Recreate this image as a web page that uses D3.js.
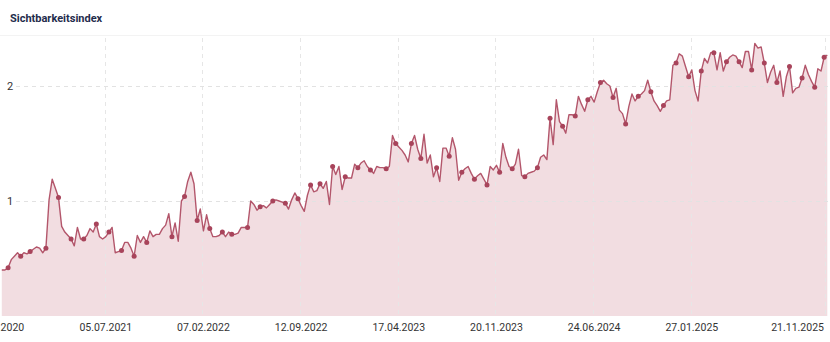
<!DOCTYPE html>
<html>
<head>
<meta charset="utf-8">
<script src="https://cdn.jsdelivr.net/npm/d3@7"></script>
<style>
  html, body { margin: 0; padding: 0; background: #fff; }
  svg { display: block; font-family: Roboto, "Noto Sans", sans-serif; }
</style>
</head>
<body>
<svg id="chart" width="830" height="342"></svg>
<script>
// ---- data (weekly Sichtbarkeitsindex) ----
const title = "Sichtbarkeitsindex";

const dates = [
  "2020-11-16","2020-11-23","2020-11-30","2020-12-07","2020-12-14","2020-12-21","2020-12-28",
  "2021-01-04","2021-01-11","2021-01-18","2021-01-25","2021-02-01","2021-02-08","2021-02-15","2021-02-22",
  "2021-03-01","2021-03-08","2021-03-15","2021-03-22","2021-03-29","2021-04-05","2021-04-12","2021-04-19","2021-04-26",
  "2021-05-03","2021-05-10","2021-05-17","2021-05-24","2021-05-31","2021-06-07","2021-06-14","2021-06-21","2021-06-28",
  "2021-07-05","2021-07-12","2021-07-19","2021-07-26","2021-08-02","2021-08-09","2021-08-16","2021-08-23","2021-08-30",
  "2021-09-06","2021-09-13","2021-09-20","2021-09-27","2021-10-04","2021-10-11","2021-10-18","2021-10-25",
  "2021-11-01","2021-11-08","2021-11-15","2021-11-22","2021-11-29","2021-12-06","2021-12-13","2021-12-20","2021-12-27",
  "2022-01-03","2022-01-10","2022-01-17","2022-01-24","2022-01-31","2022-02-07","2022-02-14","2022-02-21","2022-02-28",
  "2022-03-07","2022-03-14","2022-03-21","2022-03-28","2022-04-04","2022-04-11","2022-04-18","2022-04-25",
  "2022-05-02","2022-05-09","2022-05-16","2022-05-23","2022-05-30","2022-06-06","2022-06-13","2022-06-20","2022-06-27",
  "2022-07-04","2022-07-11","2022-07-18","2022-07-25","2022-08-01","2022-08-08","2022-08-15","2022-08-22","2022-08-29",
  "2022-09-05","2022-09-12","2022-09-19","2022-09-26","2022-10-03","2022-10-10","2022-10-17","2022-10-24","2022-10-31",
  "2022-11-07","2022-11-14","2022-11-21","2022-11-28","2022-12-05","2022-12-12","2022-12-19","2022-12-26",
  "2023-01-02","2023-01-09","2023-01-16","2023-01-23","2023-01-30","2023-02-06","2023-02-13","2023-02-20","2023-02-27",
  "2023-03-06","2023-03-13","2023-03-20","2023-03-27","2023-04-03","2023-04-10","2023-04-17","2023-04-24",
  "2023-05-01","2023-05-08","2023-05-15","2023-05-22","2023-05-29","2023-06-05","2023-06-12","2023-06-19","2023-06-26",
  "2023-07-03","2023-07-10","2023-07-17","2023-07-24","2023-07-31","2023-08-07","2023-08-14","2023-08-21","2023-08-28",
  "2023-09-04","2023-09-11","2023-09-18","2023-09-25","2023-10-02","2023-10-09","2023-10-16","2023-10-23","2023-10-30",
  "2023-11-06","2023-11-13","2023-11-20","2023-11-27","2023-12-04","2023-12-11","2023-12-18","2023-12-25",
  "2024-01-01","2024-01-08","2024-01-15","2024-01-22","2024-01-29","2024-02-05","2024-02-12","2024-02-19","2024-02-26",
  "2024-03-04","2024-03-11","2024-03-18","2024-03-25","2024-04-01","2024-04-08","2024-04-15","2024-04-22","2024-04-29",
  "2024-05-06","2024-05-13","2024-05-20","2024-05-27","2024-06-03","2024-06-10","2024-06-17","2024-06-24",
  "2024-07-01","2024-07-08","2024-07-15","2024-07-22","2024-07-29","2024-08-05","2024-08-12","2024-08-19","2024-08-26",
  "2024-09-02","2024-09-09","2024-09-16","2024-09-23","2024-09-30","2024-10-07","2024-10-14","2024-10-21","2024-10-28",
  "2024-11-04","2024-11-11","2024-11-18","2024-11-25","2024-12-02","2024-12-09","2024-12-16","2024-12-23","2024-12-30",
  "2025-01-06","2025-01-13","2025-01-20","2025-01-27","2025-02-03","2025-02-10","2025-02-17","2025-02-24",
  "2025-03-03","2025-03-10","2025-03-17","2025-03-24","2025-03-31","2025-04-07","2025-04-14","2025-04-21","2025-04-28",
  "2025-05-05","2025-05-12","2025-05-19","2025-05-26","2025-06-02","2025-06-09","2025-06-16","2025-06-23","2025-06-30",
  "2025-07-07","2025-07-14","2025-07-21","2025-07-28","2025-08-04","2025-08-11","2025-08-18","2025-08-25",
  "2025-09-01","2025-09-08","2025-09-15","2025-09-22","2025-09-29","2025-10-06","2025-10-13","2025-10-20","2025-10-27",
  "2025-11-03","2025-11-10","2025-11-17","2025-11-24"
];

const values = [
  0.40,0.40,0.42,0.49,0.52,0.55,0.52,
  0.55,0.54,0.56,0.58,0.60,0.59,0.55,0.59,
  1.01,1.19,1.11,1.03,0.78,0.73,0.70,0.67,0.61,
  0.77,0.67,0.67,0.70,0.76,0.73,0.80,0.69,0.67,
  0.69,0.73,0.77,0.55,0.56,0.57,0.64,0.64,0.59,
  0.52,0.70,0.64,0.69,0.64,0.74,0.69,0.71,
  0.71,0.76,0.79,0.89,0.69,0.81,0.65,1.00,1.04,
  1.17,1.25,1.15,0.83,0.93,0.74,0.88,0.76,0.69,
  0.69,0.70,0.73,0.69,0.73,0.71,0.71,0.72,
  0.77,0.77,0.77,1.00,0.97,0.92,0.95,0.96,0.94,
  0.97,1.00,1.01,1.00,0.99,0.98,0.93,1.01,1.07,
  1.02,0.96,0.91,1.05,1.14,1.08,1.09,1.15,1.11,
  1.17,0.97,1.30,1.23,1.30,1.10,1.21,1.20,
  1.20,1.32,1.29,1.33,1.35,1.30,1.27,1.24,1.30,
  1.29,1.29,1.28,1.30,1.57,1.50,1.47,1.44,
  1.40,1.34,1.50,1.57,1.45,1.37,1.58,1.33,1.40,
  1.21,1.29,1.17,1.46,1.46,1.39,1.55,1.45,1.18,
  1.25,1.28,1.30,1.24,1.19,1.22,1.24,1.19,1.14,
  1.30,1.27,1.31,1.25,1.50,1.38,1.30,1.28,
  1.32,1.45,1.22,1.21,1.24,1.25,1.26,1.29,1.38,
  1.40,1.36,1.72,1.49,1.88,1.69,1.65,1.59,1.75,
  1.75,1.74,1.91,1.84,1.78,1.88,1.91,1.86,
  1.95,2.03,2.05,2.02,2.00,1.90,1.98,1.79,1.76,
  1.67,1.82,1.93,1.87,1.91,1.93,1.96,2.05,1.95,
  1.87,1.83,1.78,1.83,1.87,1.88,2.18,2.20,2.28,
  2.26,2.17,2.08,2.14,1.96,1.87,2.13,2.24,
  2.20,2.29,2.29,2.14,2.29,2.13,2.21,2.25,2.27,
  2.26,2.21,2.16,2.30,2.30,2.14,2.37,2.33,2.34,
  2.20,2.03,2.12,2.18,2.03,2.13,1.91,2.08,
  2.17,1.94,1.98,1.99,2.07,2.18,2.10,2.04,1.99,
  2.15,2.13,2.25,2.27
];

// weeks highlighted with a dot marker
const markerDates = [
  "2020-11-30","2020-12-28","2021-01-18","2021-02-22","2021-03-22","2021-04-19","2021-05-17","2021-06-14",
  "2021-07-12","2021-08-09","2021-09-06","2021-10-04","2021-11-29","2021-12-27","2022-01-24","2022-02-21",
  "2022-03-21","2022-04-11","2022-05-16","2022-06-13","2022-07-11","2022-08-08","2022-09-05","2022-10-03",
  "2022-10-24","2022-11-21","2022-12-19","2023-01-16","2023-02-13","2023-03-20","2023-04-10","2023-05-15",
  "2023-06-05","2023-07-10","2023-08-07","2023-09-04","2023-10-02","2023-10-30","2023-11-27","2023-12-25",
  "2024-01-22","2024-02-19","2024-03-18","2024-04-15","2024-05-13","2024-06-10","2024-07-08","2024-08-05",
  "2024-09-02","2024-09-30","2024-10-28","2024-11-25","2024-12-23","2025-01-20","2025-02-17","2025-03-17",
  "2025-04-14","2025-05-12","2025-06-09","2025-07-07","2025-08-04","2025-09-01","2025-09-29","2025-10-27",
  "2025-11-17"
];

const yTicks = [1, 2];
const xTickDates = ["2020-11-16","2021-07-05","2022-02-07","2022-09-12","2023-04-17",
                    "2023-11-20","2024-06-24","2025-01-27","2025-11-21"];
const xDomain = ["2020-11-12","2025-11-30"];

// ---- drawing ----
const W = 830, H = 342;
const parse = d3.utcParse("%Y-%m-%d");
const fmt = d3.utcFormat("%d.%m.%Y");
const data = dates.map((d, i) => ({ date: parse(d), value: values[i] }));
const markerSet = new Set(markerDates);
const markers = data.filter((d, i) => markerSet.has(dates[i]));

const plotTop = 38, plotBottom = 316;
const x = d3.scaleUtc().domain(xDomain.map(parse)).range([0, W]);
const y = d3.scaleLinear().domain([0, 2.4]).range([plotBottom, 40]);

const svg = d3.select("#chart");

// title + separator
svg.append("text")
  .attr("x", 10).attr("y", 22)
  .attr("font-size", 11).attr("font-weight", 700)
  .attr("fill", "#1f2c4c")
  .text(title);
svg.append("line")
  .attr("x1", 0).attr("x2", W).attr("y1", 35.5).attr("y2", 35.5)
  .attr("stroke", "#f3f3f3").attr("stroke-width", 1);

// area fill
const area = d3.area().x(d => x(d.date)).y0(y(0)).y1(d => y(d.value)).curve(d3.curveLinear);
svg.append("path").datum(data)
  .attr("d", area)
  .attr("fill", "rgba(190,85,105,0.2)");

// grid lines (drawn over fill, dashed, faint)
const tickDates = xTickDates.map(parse);
svg.append("g").selectAll("line")
  .data(tickDates.slice(1))
  .join("line")
  .attr("x1", d => Math.round(x(d)) - 0.5).attr("x2", d => Math.round(x(d)) - 0.5)
  .attr("y1", plotTop).attr("y2", plotBottom)
  .attr("stroke", "#e6e6e6").attr("stroke-dasharray", "4,4");

svg.append("g").selectAll("line")
  .data(yTicks)
  .join("line")
  .attr("x1", 16).attr("x2", W)
  .attr("y1", d => Math.round(y(d)) + 0.5).attr("y2", d => Math.round(y(d)) + 0.5)
  .attr("stroke", "#e2e2e2").attr("stroke-dasharray", "4,4");

// line
const line = d3.line().x(d => x(d.date)).y(d => y(d.value));
svg.append("path").datum(data)
  .attr("d", line)
  .attr("fill", "none")
  .attr("stroke", "#b3566b")
  .attr("stroke-width", 1.4)
  .attr("stroke-linejoin", "round");

// markers
svg.append("g").selectAll("circle")
  .data(markers)
  .join("circle")
  .attr("cx", d => x(d.date)).attr("cy", d => y(d.value))
  .attr("r", 2.5)
  .attr("fill", "#a8445b");

// y labels
svg.append("g").selectAll("text")
  .data(yTicks)
  .join("text")
  .attr("x", 7).attr("y", d => y(d) + 4)
  .attr("font-size", 11).attr("fill", "#333")
  .text(d => d);

// x labels
svg.append("g").selectAll("text")
  .data(tickDates)
  .join("text")
  .attr("x", (d, i) => i === tickDates.length - 1 ? x(d) - 2 : x(d) - (i === 0 ? 4 : 0))
  .attr("y", 331)
  .attr("text-anchor", (d, i) => i === tickDates.length - 1 ? "end" : "middle")
  .attr("font-size", 10.5).attr("fill", "#333")
  .text((d, i) => fmt(d));
</script>
</body>
</html>
